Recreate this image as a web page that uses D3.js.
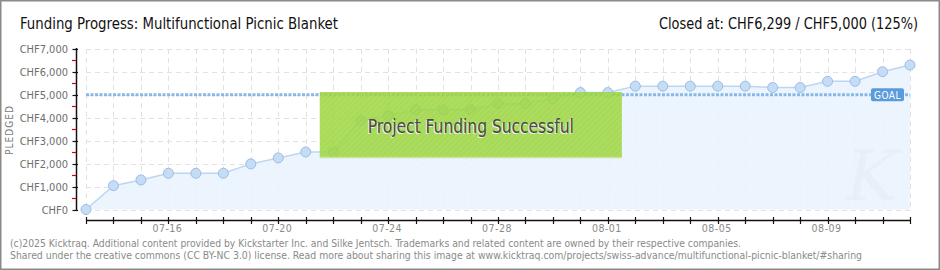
<!DOCTYPE html>
<html><head><meta charset="utf-8">
<script src="https://cdn.jsdelivr.net/npm/d3@7"></script>
<style>
html,body{margin:0;padding:0;background:#fff;}
svg{display:block;}
</style></head>
<body>
<svg id="c" width="940" height="270"></svg>
<script>
const dates = ["07-13","07-14","07-15","07-16","07-17","07-18","07-19","07-20","07-21","07-22","07-23","07-24","07-25","07-26","07-27","07-28","07-29","07-30","07-31","08-01","08-02","08-03","08-04","08-05","08-06","08-07","08-08","08-09","08-10","08-11","08-12"];
const pledged = [0,1040,1290,1580,1580,1580,1990,2250,2510,2510,3880,4090,4350,4350,4350,4610,4610,4830,5100,5100,5380,5380,5380,5380,5380,5320,5320,5590,5590,6010,6299];
const yTicks = [0,1000,2000,3000,4000,5000,6000,7000];
const xLabels = ["07-16","07-20","07-24","07-28","08-01","08-05","08-09"];
const goal = 5000;
const titleText = "Funding Progress: Multifunctional Picnic Blanket";
const closedText = "Closed at:  CHF6,299 /  CHF5,000 (125%)";
const successText = "Project Funding Successful";
const footer1 = "(c)2025 Kicktraq. Additional content provided by Kickstarter Inc. and Silke Jentsch. Trademarks and related content are owned by their respective companies.";
const footer2 = "Shared under the creative commons (CC BY-NC 3.0) license. Read more about sharing this image at www.kicktraq.com/projects/swiss-advance/multifunctional-picnic-blanket/#sharing";

const svg = d3.select("#c");
const narrow = "'DejaVu Sans Condensed','Roboto',sans-serif";
const small = "'DejaVu Sans Condensed','DejaVu Sans',sans-serif";

// frame
svg.append("rect").attr("x",0.5).attr("y",0.5).attr("width",939).attr("height",269)
  .attr("fill","#fff").attr("stroke","#8a8a8a").attr("stroke-width",2);

const x = d3.scalePoint().domain(dates).range([86,910]);
const y = d3.scaleLinear().domain([0,7000]).range([209.5,49]);

// grid
const g = svg.append("g");
g.selectAll(".hg").data(yTicks).join("line")
  .attr("x1",86).attr("x2",910).attr("y1",d=>Math.round(y(d))+0.5).attr("y2",d=>Math.round(y(d))+0.5)
  .attr("stroke","#e2e2e2").attr("stroke-dasharray","5,4");
g.selectAll(".vg").data(dates).join("line")
  .attr("x1",d=>Math.round(x(d))+0.5).attr("x2",d=>Math.round(x(d))+0.5).attr("y1",49).attr("y2",210)
  .attr("stroke","#e2e2e2").attr("stroke-dasharray","5,4");

// area
const area = d3.area().x(d=>x(d.d)).y0(y(0)).y1(d=>y(d.v));
const data = dates.map((d,i)=>({d, v:pledged[i]}));
svg.append("path").datum(data).attr("d",area).attr("fill","#eaf3fd").attr("opacity",0.9);

// watermark K
svg.append("text").attr("x",872).attr("y",200).attr("text-anchor","middle")
  .attr("font-family","'DejaVu Serif',serif").attr("font-style","italic").attr("font-size",70)
  .attr("fill","#e2ebf4").attr("opacity",0.45).text("K");

// line
svg.append("path").datum(data).attr("d",d3.line().x(d=>x(d.d)).y(d=>y(d.v)))
  .attr("fill","none").attr("stroke","#bcd6f2").attr("stroke-width",1.5);

// goal line
svg.append("line").attr("x1",86).attr("x2",910).attr("y1",y(goal)).attr("y2",y(goal))
  .attr("stroke","#8ab8e6").attr("stroke-width",3).attr("stroke-dasharray","3,1.5");

// points
svg.selectAll(".pt").data(data).join("circle")
  .attr("cx",d=>x(d.d)).attr("cy",d=>y(d.v)).attr("r",5)
  .attr("fill","#c4dcf6").attr("stroke","#9dbde2").attr("stroke-width",1);

// GOAL label
const gx = 871, gyy = y(goal);
svg.append("rect").attr("x",gx).attr("y",gyy-6.5).attr("width",33).attr("height",13).attr("rx",2)
  .attr("fill","#5a9bdc");
svg.append("text").attr("x",gx+16.5).attr("y",gyy+4).attr("text-anchor","middle")
  .attr("font-family",small).attr("font-size",10).attr("fill","#fff").attr("letter-spacing",0.5).text("GOAL");

// success box
const defs = svg.append("defs");
const pat = defs.append("pattern").attr("id","hatch").attr("width",4).attr("height",4)
  .attr("patternUnits","userSpaceOnUse").attr("patternTransform","rotate(45)");
pat.append("rect").attr("width",4).attr("height",4).attr("fill","#a0d843");
pat.append("line").attr("x1",0).attr("y1",0).attr("x2",0).attr("y2",4).attr("stroke","#97cf38").attr("stroke-width",1.5);
const bx0 = x(dates[8])+14, bx1 = x(dates[19])+14;
svg.append("rect").attr("x",bx0).attr("y",92).attr("width",bx1-bx0).attr("height",65)
  .attr("fill","url(#hatch)").attr("opacity",0.86);
svg.append("line").attr("x1",bx0).attr("x2",bx1).attr("y1",157.5).attr("y2",157.5).attr("stroke","#c8e59a").attr("stroke-width",1.5);
const cx = (bx0+bx1)/2;
svg.append("text").attr("x",cx-1).attr("y",134).attr("text-anchor","middle")
  .attr("font-family",narrow).attr("font-size",19).attr("fill","#f2f2f2")
  .attr("textLength",206).attr("lengthAdjust","spacingAndGlyphs").text(successText);
svg.append("text").attr("x",cx).attr("y",133).attr("text-anchor","middle")
  .attr("font-family",narrow).attr("font-size",19).attr("fill","#4a4a4a")
  .attr("textLength",206).attr("lengthAdjust","spacingAndGlyphs").text(successText);

// y axis
svg.append("line").attr("x1",76.5).attr("x2",76.5).attr("y1",48).attr("y2",210).attr("stroke","#111").attr("stroke-width",1.5);
svg.selectAll(".yt").data(yTicks).join("line")
  .attr("x1",72.5).attr("x2",78).attr("y1",d=>Math.round(y(d))+0.5).attr("y2",d=>Math.round(y(d))+0.5)
  .attr("stroke","#111").attr("stroke-width",1.2);
svg.selectAll(".ym").data(yTicks.slice(0,-1)).join("line")
  .attr("x1",72).attr("x2",76).attr("y1",d=>Math.round(y(d+500))+0.5).attr("y2",d=>Math.round(y(d+500))+0.5)
  .attr("stroke","#d00").attr("stroke-width",1.2);
svg.selectAll(".yl").data(yTicks).join("text")
  .attr("x",68).attr("y",d=>y(d)+4).attr("text-anchor","end")
  .attr("font-family",small).attr("font-size",11).attr("fill","#6e6e6e")
  .text(d=>"CHF"+d3.format(",")(d));
svg.append("text").attr("transform","translate(13,130) rotate(-90)").attr("text-anchor","middle")
  .attr("font-family",small).attr("font-size",10).attr("fill","#7a7a7a")
  .attr("letter-spacing",1).text("PLEDGED");

// x axis
svg.append("line").attr("x1",86).attr("x2",911).attr("y1",220.5).attr("y2",220.5).attr("stroke","#111").attr("stroke-width",1.5);
svg.selectAll(".xt").data(dates).join("line")
  .attr("x1",d=>Math.round(x(d))+0.5).attr("x2",d=>Math.round(x(d))+0.5).attr("y1",217).attr("y2",224)
  .attr("stroke","#111").attr("stroke-width",1.2);
svg.selectAll(".xl").data(xLabels).join("text")
  .attr("x",d=>x(d)-1).attr("y",232).attr("text-anchor","middle")
  .attr("font-family",small).attr("font-size",10.5).attr("fill","#8a8a8a").attr("letter-spacing",0.5).text(d=>d);

// title
svg.append("text").attr("x",20).attr("y",29).attr("font-family",narrow).attr("font-size",16).attr("fill","#111")
  .attr("textLength",318).attr("lengthAdjust","spacingAndGlyphs").text(titleText);
svg.append("text").attr("x",659).attr("y",29).attr("font-family",narrow).attr("font-size",15).attr("fill","#111")
  .attr("textLength",259).attr("lengthAdjust","spacingAndGlyphs").text(closedText);

// footer
svg.append("text").attr("x",10).attr("y",247).attr("font-family",small).attr("font-size",10.5).attr("fill","#8a8a8a")
  .attr("textLength",731).attr("lengthAdjust","spacingAndGlyphs").text(footer1);
svg.append("text").attr("x",10).attr("y",259).attr("font-family",small).attr("font-size",10.5).attr("fill","#8a8a8a")
  .attr("textLength",852).attr("lengthAdjust","spacingAndGlyphs").text(footer2);
</script>
</body></html>
